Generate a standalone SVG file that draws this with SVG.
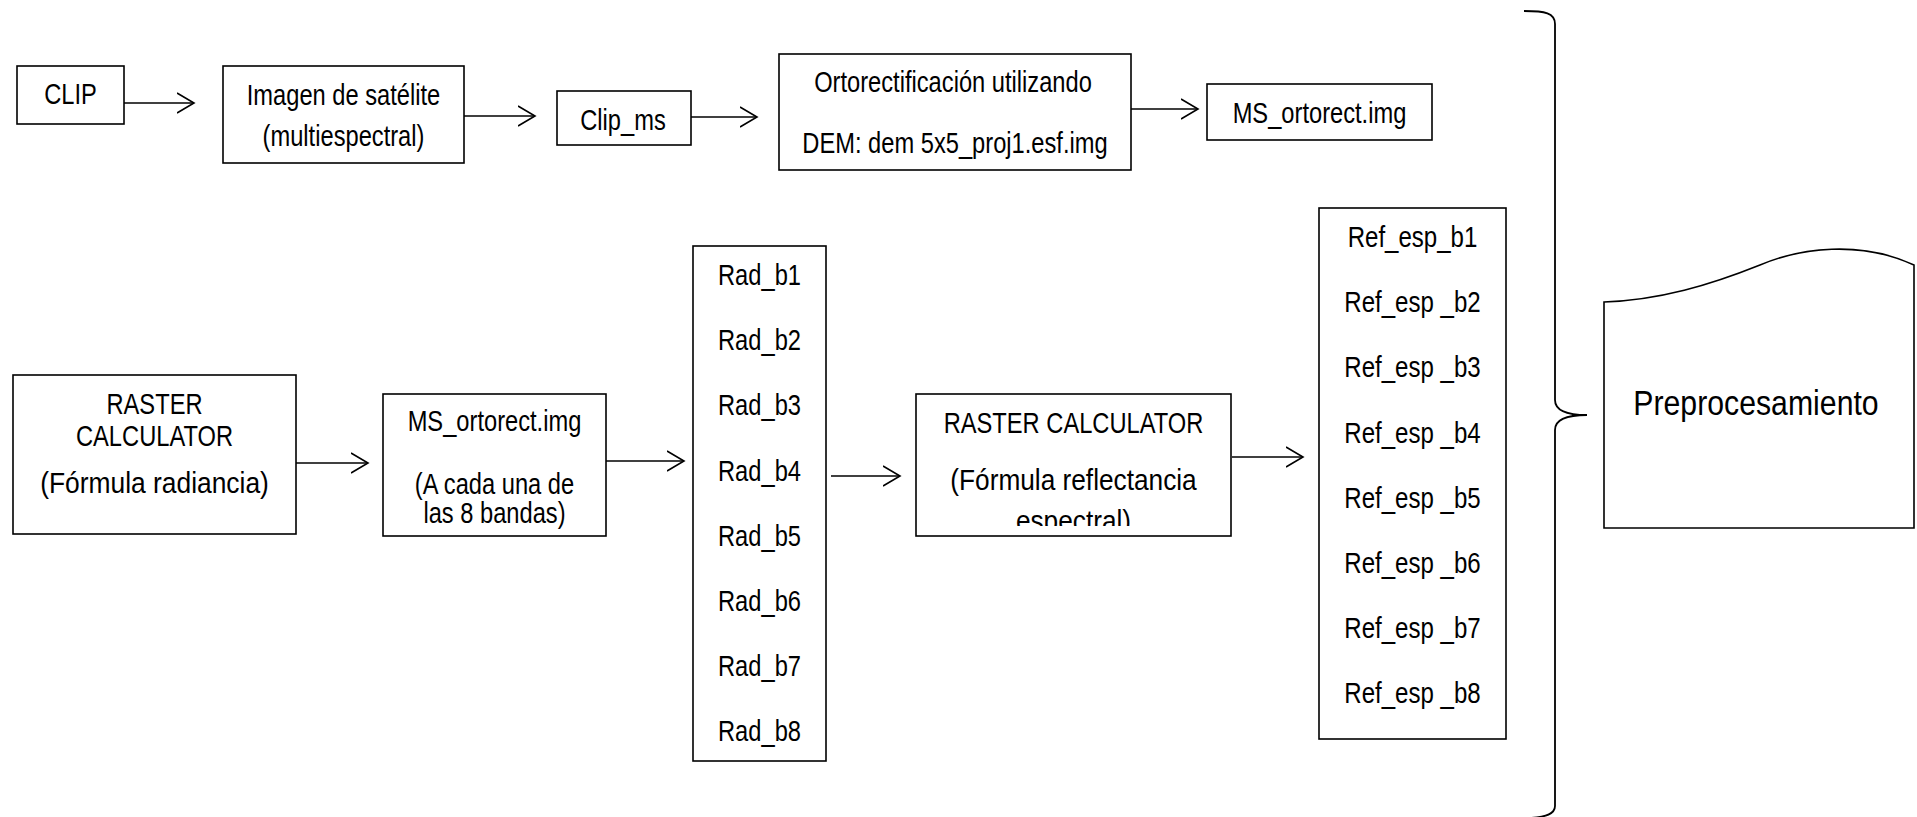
<svg xmlns="http://www.w3.org/2000/svg" width="1917" height="817" viewBox="0 0 1917 817">
<style>
  .box { fill: #fff; stroke: #000; stroke-width: 1.6; }
  .t { font-family: "Liberation Sans", Arial, sans-serif; font-size: 29px; fill: #000; text-anchor: middle; }
  .p { font-family: "Liberation Sans", Arial, sans-serif; font-size: 36px; fill: #000; text-anchor: middle; }
  .c { stroke: #000; stroke-width: 1.6; fill: none; marker-end: url(#arr); }
  .br { stroke: #000; stroke-width: 1.8; fill: none; }
</style>
<defs>
  <marker id="arr" markerUnits="userSpaceOnUse" markerWidth="22" markerHeight="24" refX="17" refY="11" orient="auto">
    <path d="M0,1 L17,11 L0,21" fill="none" stroke="#000" stroke-width="1.6"/>
  </marker>
  <clipPath id="clipRC2"><rect x="916" y="394" width="315" height="132"/></clipPath>
</defs>
<rect width="1917" height="817" fill="#fff"/>

<g id="connectors">
  <line class="c" x1="124" y1="103" x2="194" y2="103"/>
  <line class="c" x1="464" y1="116" x2="535" y2="116"/>
  <line class="c" x1="691" y1="117" x2="757" y2="117"/>
  <line class="c" x1="1131" y1="109" x2="1198" y2="109"/>
  <line class="c" x1="296" y1="463" x2="368" y2="463"/>
  <line class="c" x1="606" y1="461" x2="684" y2="461"/>
  <line class="c" x1="831" y1="476" x2="900" y2="476"/>
  <line class="c" x1="1232" y1="457" x2="1303" y2="457"/>
</g>

<g id="clip">
  <rect class="box" x="17" y="66" width="107" height="58"/>
  <text class="t" transform="translate(70.5,104) scale(0.817,1)">CLIP</text>
</g>
<g id="imagen">
  <rect class="box" x="223" y="66" width="241" height="97"/>
  <text class="t" transform="translate(343.5,105) scale(0.817,1)">Imagen de satélite</text>
  <text class="t" transform="translate(343.5,146) scale(0.817,1)">(multiespectral)</text>
</g>
<g id="clip_ms">
  <rect class="box" x="557" y="91" width="134" height="54"/>
  <text class="t" transform="translate(623,130) scale(0.817,1)">Clip_ms</text>
</g>
<g id="ortorect">
  <rect class="box" x="779" y="54" width="352" height="116"/>
  <text class="t" transform="translate(953,91.5) scale(0.817,1)">Ortorectificación utilizando</text>
  <text class="t" transform="translate(955,153) scale(0.817,1)">DEM: dem 5x5_proj1.esf.img</text>
</g>
<g id="ms_ortorect_top">
  <rect class="box" x="1207" y="84" width="225" height="56"/>
  <text class="t" transform="translate(1319.5,123) scale(0.817,1)">MS_ortorect.img</text>
</g>

<g id="raster1">
  <rect class="box" x="13" y="375" width="283" height="159"/>
  <text class="t" transform="translate(154.5,414) scale(0.817,1)">RASTER</text>
  <text class="t" transform="translate(154.5,446) scale(0.817,1)">CALCULATOR</text>
  <text class="t" transform="translate(154.5,493) scale(0.91,1)">(Fórmula radiancia)</text>
</g>
<g id="ms_ortorect_bands">
  <rect class="box" x="383" y="394" width="223" height="142"/>
  <text class="t" transform="translate(494.5,431) scale(0.817,1)">MS_ortorect.img</text>
  <text class="t" transform="translate(494.5,494) scale(0.817,1)">(A cada una de</text>
  <text class="t" transform="translate(494.5,523) scale(0.817,1)">las 8 bandas)</text>
</g>
<g id="rad">
  <rect class="box" x="693" y="246" width="133" height="515"/>
  <text class="t" transform="translate(759.5,285) scale(0.817,1)">Rad_b1</text>
  <text class="t" transform="translate(759.5,350.2) scale(0.817,1)">Rad_b2</text>
  <text class="t" transform="translate(759.5,415.4) scale(0.817,1)">Rad_b3</text>
  <text class="t" transform="translate(759.5,480.6) scale(0.817,1)">Rad_b4</text>
  <text class="t" transform="translate(759.5,545.8) scale(0.817,1)">Rad_b5</text>
  <text class="t" transform="translate(759.5,611) scale(0.817,1)">Rad_b6</text>
  <text class="t" transform="translate(759.5,676.2) scale(0.817,1)">Rad_b7</text>
  <text class="t" transform="translate(759.5,741.4) scale(0.817,1)">Rad_b8</text>
</g>
<g id="raster2">
  <rect class="box" x="916" y="394" width="315" height="142"/>
  <text class="t" transform="translate(1073.5,433) scale(0.817,1)">RASTER CALCULATOR</text>
  <text class="t" transform="translate(1073.5,490) scale(0.905,1)">(Fórmula reflectancia</text>
  <g clip-path="url(#clipRC2)">
    <text class="t" transform="translate(1073.5,531) scale(0.905,1)">espectral)</text>
  </g>
</g>
<g id="ref">
  <rect class="box" x="1319" y="208" width="187" height="531"/>
  <text class="t" transform="translate(1412.5,247) scale(0.83,1)">Ref_esp_b1</text>
  <text class="t" transform="translate(1412.5,312.2) scale(0.83,1)">Ref_esp _b2</text>
  <text class="t" transform="translate(1412.5,377.4) scale(0.83,1)">Ref_esp _b3</text>
  <text class="t" transform="translate(1412.5,442.6) scale(0.83,1)">Ref_esp _b4</text>
  <text class="t" transform="translate(1412.5,507.8) scale(0.83,1)">Ref_esp _b5</text>
  <text class="t" transform="translate(1412.5,573) scale(0.83,1)">Ref_esp _b6</text>
  <text class="t" transform="translate(1412.5,638.2) scale(0.83,1)">Ref_esp _b7</text>
  <text class="t" transform="translate(1412.5,703.4) scale(0.83,1)">Ref_esp _b8</text>
</g>

<g id="brace">
  <path class="br" d="M1524,11 C1545,11 1555,13 1555,24 L1555,400 C1555,410 1565,415 1587,415 C1565,415 1555,420 1555,430 L1555,806 C1555,814 1546,817 1530,818"/>
</g>
<g id="preprocesamiento">
  <path class="box" d="M1604,302 C1660,300 1710,285 1760,265 C1800,248 1860,240 1914,265 L1914,528 L1604,528 Z"/>
  <text class="p" transform="translate(1756,415) scale(0.84,1)">Preprocesamiento</text>
</g>
</svg>
